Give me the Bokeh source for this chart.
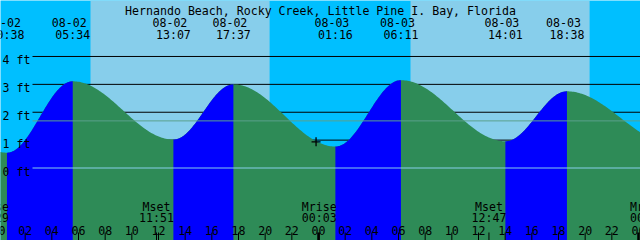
import numpy as np
from bokeh.plotting import figure
from bokeh.models import Range1d
from bokeh.core.properties import value
from bokeh.embed import file_html
from bokeh.resources import INLINE

# ---------------- data ----------------
title = "Hernando Beach, Rocky Creek, Little Pine I. Bay, Florida"

tide_dates = ["08-01", "08-02", "08-02", "08-02", "08-02", "08-03", "08-03", "08-03", "08-03", "08-04"]
tide_times = ["16:50", "00:38", "05:34", "13:07", "17:37", "01:16", "06:11", "14:01", "18:38", "02:40"]
tide_heights = [2.95, 0.55, 3.11, 1.02, 3.00, 0.77, 3.15, 0.96, 2.75, 0.85]

sun_dates = ["08-02", "08-03"]
sunrise_times = ["06:54", "06:54"]
sunset_times = ["20:20", "20:20"]

moon_names = ["Mrise", "Mset", "Mrise", "Mset", "Mrise"]
moon_dates = ["08-01", "08-02", "08-03", "08-03", "08-04"]
moon_times = ["23:29", "11:51", "00:03", "12:47", "00:40"]

level_values = [0, 1, 2, 3, 4]
level_labels = ["0 ft", "1 ft", "2 ft", "3 ft", "4 ft"]
mean_sea_level = 1.69

hour_values = list(range(0, 50, 2))
hour_labels = ["%02d" % (h % 24) for h in hour_values]

now_date, now_time, now_level = "08-02", "23:49", 0.94

# ---------------- layout ----------------
W, H = 640, 240
X0_H = 0.15              # hour shown at the left edge
PX_PER_H = 320.0 / 24.0
Y0_PX = 167.5            # pixel row of 0 ft
PX_PER_FT = 27.88

NIGHT = "#00BFFF"
DAY = "#87CEEB"
RISE = "#0000FF"
FALL = "#2E8B57"
FONT = value("DejaVu Sans Mono")
FSIZE = "11.6px"


def to_h(date, time):
    day = int(date[3:]) - 2
    hh, mm = time.split(":")
    return day * 24 + int(hh) + int(mm) / 60.0


def px_x(px):
    return X0_H + px / PX_PER_H


def px_y(py):
    return (Y0_PX - py) / PX_PER_FT


y_bot, y_top = px_y(H), px_y(0)
x_left, x_right = px_x(0), px_x(W)

p = figure(width=W, height=H, x_range=Range1d(x_left, x_right), y_range=Range1d(y_bot, y_top),
           toolbar_location=None, output_backend="svg", min_border=0,
           x_axis_type=None, y_axis_type=None)
p.grid.visible = False
p.outline_line_color = None
p.background_fill_color = NIGHT
p.border_fill_color = NIGHT

# daylight bands
rise_h = [to_h(d, t) for d, t in zip(sun_dates, sunrise_times)]
set_h = [to_h(d, t) for d, t in zip(sun_dates, sunset_times)]
p.quad(left=rise_h, right=set_h, bottom=y_bot, top=y_top, fill_color=DAY, line_color=None)

# grid lines behind water
grid_x0 = px_x(32)
p.segment(x0=[grid_x0] * 4, x1=[x_right] * 4, y0=level_values[1:], y1=level_values[1:],
          line_color="black", line_width=1)

# tide curve
ev_h = [to_h(d, t) for d, t in zip(tide_dates, tide_times)]
seg_x, seg_y, rising = [], [], []
for i in range(len(ev_h) - 1):
    t0, t1 = ev_h[i], ev_h[i + 1]
    h0, h1 = tide_heights[i], tide_heights[i + 1]
    tt = np.linspace(t0, t1, 80)
    hh = h1 + (h0 - h1) * (1 + np.cos(np.pi * (tt - t0) / (t1 - t0))) / 2
    seg_x.append(tt)
    seg_y.append(hh)
    rising.append(h1 > h0)

all_x = np.concatenate(seg_x)
all_y = np.concatenate(seg_y)
p.varea(x=all_x, y1=y_bot, y2=all_y, fill_color=FALL)
for tt, hh, r in zip(seg_x, seg_y, rising):
    if r:
        p.varea(x=tt, y1=y_bot, y2=hh, fill_color=RISE)

# datum and mean sea level lines
p.segment(x0=[grid_x0], x1=[x_right], y0=[0], y1=[0], line_color="#87CEEB", line_width=1)
p.segment(x0=[grid_x0], x1=[x_right], y0=[mean_sea_level], y1=[mean_sea_level],
          line_color="#5AA08C", line_width=1)

# level labels
p.text(x=[px_x(2)] * len(level_values), y=[v - 3.5 / PX_PER_FT for v in level_values],
       text=level_labels, text_font=FONT, text_font_size=FSIZE, text_color="black",
       text_align="left", text_baseline="alphabetic")

# title
p.text(x=[px_x(320)], y=[px_y(10)], text=[title], text_font=FONT, text_font_size=FSIZE,
       text_color="black", text_align="center", text_baseline="alphabetic")

# tide event labels
p.text(x=ev_h, y=[px_y(22)] * len(ev_h), text=tide_dates, x_offset=-3.5,
       text_font=FONT, text_font_size=FSIZE, text_color="black",
       text_align="center", text_baseline="alphabetic")
p.text(x=ev_h, y=[px_y(34)] * len(ev_h), text=tide_times,
       text_font=FONT, text_font_size=FSIZE, text_color="black",
       text_align="center", text_baseline="alphabetic")

# moon events
moon_h = [to_h(d, t) for d, t in zip(moon_dates, moon_times)]
p.text(x=moon_h, y=[px_y(206)] * len(moon_h), text=moon_names,
       text_font=FONT, text_font_size=FSIZE, text_color="black",
       text_align="center", text_baseline="alphabetic")
p.text(x=moon_h, y=[px_y(217)] * len(moon_h), text=moon_times,
       text_font=FONT, text_font_size=FSIZE, text_color="black",
       text_align="center", text_baseline="alphabetic")
p.segment(x0=moon_h, x1=moon_h, y0=[px_y(232)] * len(moon_h), y1=[y_bot] * len(moon_h),
          line_color="black", line_width=1)

# hour labels and ticks
p.text(x=hour_values, y=[px_y(230)] * len(hour_values), text=hour_labels,
       text_font=FONT, text_font_size=FSIZE, text_color="black",
       text_align="center", text_baseline="alphabetic")
minor = [h for h in hour_values if h % 24 != 0]
major = [h for h in hour_values if h % 24 == 0]
p.segment(x0=minor, x1=minor, y0=[px_y(232)] * len(minor), y1=[y_bot] * len(minor),
          line_color="black", line_width=1)
p.segment(x0=major, x1=major, y0=[px_y(232)] * len(major), y1=[y_bot] * len(major),
          line_color="black", line_width=2.5)

# current-time mark
p.scatter(x=[to_h(now_date, now_time)], y=[now_level], marker="cross", size=9,
          line_color="black", line_width=1.3)

open("out.html", "w").write(file_html(p, INLINE))
